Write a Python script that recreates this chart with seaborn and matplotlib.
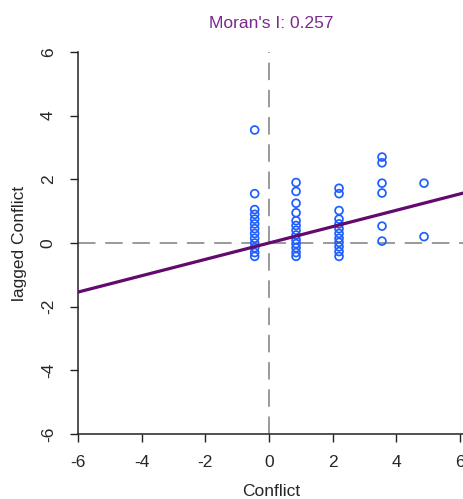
import numpy as np
import pandas as pd
import matplotlib
matplotlib.use("Agg")
import matplotlib.pyplot as plt
import seaborn as sns

# ---- data ----
conflict_levels = [-0.45, 0.85, 2.2, 3.55, 4.87]
lag_col1 = [3.55, 1.55, 1.05, 0.9, 0.75, 0.6, 0.45, 0.3, 0.15, 0.0, -0.15, -0.3, -0.42]
lag_col2 = [1.9, 1.62, 1.25, 0.95, 0.7, 0.55, 0.4, 0.25, 0.1, -0.02, -0.15, -0.3, -0.42]
lag_col3 = [1.72, 1.55, 1.02, 0.75, 0.6, 0.45, 0.3, 0.15, 0.02, -0.12, -0.27, -0.42]
lag_col4 = [2.7, 2.52, 1.88, 1.57, 0.53, 0.06]
lag_col5 = [1.88, 0.2]
moran_i = 0.257
ticks = [-6, -4, -2, 0, 2, 4, 6]
title_text = "Moran's I: 0.257"
xlabel_text = "Conflict"
ylabel_text = "lagged Conflict"

cols = [lag_col1, lag_col2, lag_col3, lag_col4, lag_col5]
df = pd.DataFrame({
    "Conflict": np.concatenate([[xv] * len(c) for xv, c in zip(conflict_levels, cols)]),
    "lagged": np.concatenate(cols),
})

sns.set_style("ticks")
plt.rcParams["font.family"] = ["Liberation Sans", "DejaVu Sans"]

W, H = 464, 499
fig = plt.figure(figsize=(W / 100, H / 100), dpi=100)
left, right, top, bottom = 78, 464, 52, 434
ax = fig.add_axes([left / W, (H - bottom) / H, (right - left) / W, (bottom - top) / H])

ppu = (bottom - top) / 12.0
ax.set_xlim(-6, -6 + (right - left) / ppu)
ax.set_ylim(-6, 6)

# reference lines
ax.axhline(0, color="#9a9a9a", lw=1.4, ls=(0, (9, 5)), zorder=1)
ax.axvline(0, color="#9a9a9a", lw=1.4, ls=(0, (9, 5)), zorder=1)

sns.scatterplot(data=df, x="Conflict", y="lagged", ax=ax, marker="o",
                facecolor="none", edgecolor="#1f5fff", linewidth=1.25, s=32, zorder=3)

ax.axline((0, 0), slope=moran_i, color="#620a6e", lw=2.3, zorder=4)

fs = 12.5
ax.set_xticks(ticks)
ax.set_yticks(ticks)
ax.set_xticklabels([str(t) for t in ticks], fontsize=fs)
ax.set_yticklabels([str(t) for t in ticks], fontsize=fs, rotation=90, va="center")
ax.tick_params(direction="out", length=6, width=1, color="#222222")
ax.tick_params(axis="x", pad=9)
ax.tick_params(axis="y", pad=10)
for s in ["top", "right"]:
    ax.spines[s].set_visible(False)
for s in ["left", "bottom"]:
    ax.spines[s].set_color("#222222")
    ax.spines[s].set_linewidth(1.1)

ax.set_xlabel(xlabel_text, fontsize=fs, labelpad=10)
ax.set_ylabel(ylabel_text, fontsize=fs, labelpad=10)
ax.set_title(title_text, color="#7a2a8a", fontsize=fs, pad=17)

fig.savefig("out.png", dpi=100)
